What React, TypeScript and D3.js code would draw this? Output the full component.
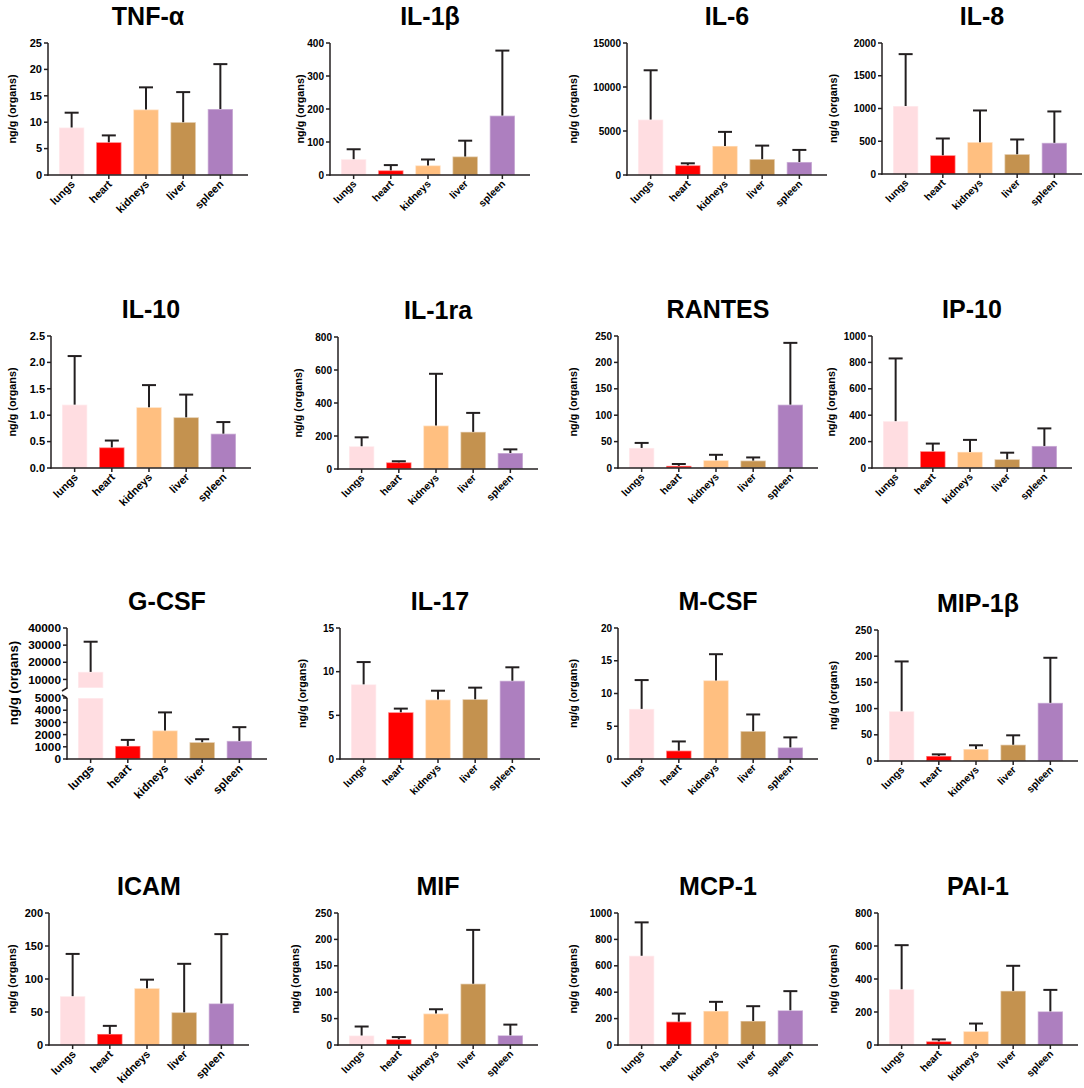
import * as d3 from "d3";

const organs = ["lungs", "heart", "kidneys", "liver", "spleen"];
const organColors = ["#ffdde1", "#ff0000", "#ffbf80", "#c4924f", "#ad7fbf"];

// mean and upper error (SD) per organ
const tnfMean = [9.0, 6.2, 12.4, 10.0, 12.5];
const tnfErr = [2.8, 1.3, 4.2, 5.7, 8.5];
const il1bMean = [48, 14, 29, 56, 180];
const il1bErr = [30, 16, 18, 48, 197];
const il6Mean = [6300, 1100, 3300, 1800, 1480];
const il6Err = [5600, 230, 1600, 1540, 1370];
const il8Mean = [1038, 286, 486, 302, 476];
const il8Err = [792, 256, 484, 225, 479];

const il10Mean = [1.2, 0.39, 1.15, 0.96, 0.65];
const il10Err = [0.92, 0.13, 0.42, 0.43, 0.22];
const il1raMean = [138, 40, 263, 225, 97];
const il1raErr = [54, 7, 314, 115, 22];
const rantesMean = [38, 4, 14.6, 14, 120];
const rantesErr = [9.5, 3.6, 10.4, 6, 117];
const ip10Mean = [355, 127, 122, 66, 167];
const ip10Err = [475, 58, 91, 50, 133];

const gcsfMean = [14400, 1070, 2335, 1374, 1483];
const gcsfErr = [17600, 496, 1485, 246, 1127];
const il17Mean = [8.55, 5.35, 6.8, 6.84, 8.96];
const il17Err = [2.55, 0.42, 1.02, 1.33, 1.54];
const mcsfMean = [7.65, 1.27, 12.0, 4.25, 1.77];
const mcsfErr = [4.4, 1.41, 4.0, 2.55, 1.53];
const mip1bMean = [95, 9.5, 22.8, 31, 111];
const mip1bErr = [95, 3.2, 7.2, 18, 86];

const icamMean = [74, 16.7, 86, 49.5, 63];
const icamErr = [64, 12.3, 13, 73.5, 105];
const mifMean = [18, 10.8, 59.5, 116, 18.4];
const mifErr = [17, 4.2, 8.2, 102, 20.2];
const mcp1Mean = [676, 177, 258, 182, 263];
const mcp1Err = [253, 61, 69, 112, 145];
const pai1Mean = [338, 22, 83, 328, 204];
const pai1Err = [267, 12, 47, 152, 130];

const gcsfLowTicks = [0, 1000, 2000, 3000, 4000, 5000];
const gcsfHighTicks = [10000, 20000, 30000, 40000];

const FONT = "'Liberation Sans', Arial, Helvetica, sans-serif";
const INK = "#231f20";

interface Brk {
  lowMax: number;
  lowTop: number;
  upMin: number;
  upMax: number;
  upBottom: number;
  lowTicks: number[];
  upTicks: number[];
}

interface PanelDef {
  title: string;
  mean: number[];
  err: number[];
  max: number;
  ticks: number[];
  fmt?: (v: number) => string;
  x: number;
  top: number;
  bottom: number;
  labelX: number;
  tickFont: number;
  catFont: number;
  labelFont: number;
  brk?: Brk;
}

const range = (a: number, b: number, s: number) => d3.range(a, b + s / 2, s);
const f1 = (v: number) => v.toFixed(1);

// font sizes: first column slightly larger, as in the source figure
const c1 = { tickFont: 11, catFont: 11, labelFont: 10.8 };
const cN = { tickFont: 10, catFont: 10.3, labelFont: 10.8 };

const panels: PanelDef[] = [
  { title: "TNF-α", mean: tnfMean, err: tnfErr, max: 25, ticks: range(0, 25, 5), x: 48, top: 43, bottom: 175, labelX: 12, ...c1 },
  { title: "IL-1β", mean: il1bMean, err: il1bErr, max: 400, ticks: range(0, 400, 100), x: 330, top: 43, bottom: 175, labelX: 300, ...cN },
  { title: "IL-6", mean: il6Mean, err: il6Err, max: 15000, ticks: range(0, 15000, 5000), x: 627, top: 43, bottom: 175, labelX: 573, ...cN },
  { title: "IL-8", mean: il8Mean, err: il8Err, max: 2000, ticks: range(0, 2000, 500), x: 882, top: 43, bottom: 174, labelX: 833, ...cN },

  { title: "IL-10", mean: il10Mean, err: il10Err, max: 2.5, ticks: range(0, 2.5, 0.5), fmt: f1, x: 51, top: 336, bottom: 468, labelX: 12, ...c1 },
  { title: "IL-1ra", mean: il1raMean, err: il1raErr, max: 800, ticks: range(0, 800, 200), x: 338, top: 337, bottom: 469, labelX: 298, ...cN },
  { title: "RANTES", mean: rantesMean, err: rantesErr, max: 250, ticks: range(0, 250, 50), x: 618, top: 336, bottom: 468, labelX: 573, ...cN },
  { title: "IP-10", mean: ip10Mean, err: ip10Err, max: 1000, ticks: range(0, 1000, 200), x: 872, top: 336, bottom: 468, labelX: 831, ...cN },

  {
    title: "G-CSF", mean: gcsfMean, err: gcsfErr, max: 5000, ticks: gcsfLowTicks, x: 67, top: 628, bottom: 759, labelX: 13,
    tickFont: 11.8, catFont: 11.5, labelFont: 13.2,
    brk: { lowMax: 5000, lowTop: 698, upMin: 5000, upMax: 40000, upBottom: 688, lowTicks: gcsfLowTicks, upTicks: gcsfHighTicks },
  },
  { title: "IL-17", mean: il17Mean, err: il17Err, max: 15, ticks: range(0, 15, 5), x: 340, top: 628, bottom: 759, labelX: 302, ...cN },
  { title: "M-CSF", mean: mcsfMean, err: mcsfErr, max: 20, ticks: range(0, 20, 5), x: 618, top: 628, bottom: 759, labelX: 573, ...cN },
  { title: "MIP-1β", mean: mip1bMean, err: mip1bErr, max: 250, ticks: range(0, 250, 50), x: 878, top: 630, bottom: 761, labelX: 833, ...cN },

  { title: "ICAM", mean: icamMean, err: icamErr, max: 200, ticks: range(0, 200, 50), x: 49, top: 913, bottom: 1045, labelX: 12, ...c1 },
  { title: "MIF", mean: mifMean, err: mifErr, max: 250, ticks: range(0, 250, 50), x: 338, top: 913, bottom: 1045, labelX: 295, ...cN },
  { title: "MCP-1", mean: mcp1Mean, err: mcp1Err, max: 1000, ticks: range(0, 1000, 200), x: 618, top: 913, bottom: 1045, labelX: 573, ...cN },
  { title: "PAI-1", mean: pai1Mean, err: pai1Err, max: 800, ticks: range(0, 800, 200), x: 878, top: 913, bottom: 1045, labelX: 833, ...cN },
];

function Panel({ p }: { p: PanelDef }) {
  const right = p.x + 200;
  const x = d3
    .scaleBand<string>()
    .domain(organs)
    .range([p.x + 11, p.x + 185])
    .paddingInner(0.32);
  const bw = x.bandwidth();
  const cap = 14;
  const fmt = p.fmt ?? ((v: number) => String(v));

  const yLow = d3
    .scaleLinear()
    .domain([0, p.brk ? p.brk.lowMax : p.max])
    .range([p.bottom, p.brk ? p.brk.lowTop : p.top]);
  const yUp = p.brk
    ? d3.scaleLinear().domain([p.brk.upMin, p.brk.upMax]).range([p.brk.upBottom, p.top])
    : null;

  const yOf = (v: number) => (yUp && p.brk && v > p.brk.lowMax ? yUp(v) : yLow(v));

  const yTicks: { v: number; y: number }[] = p.brk
    ? [
        ...p.brk.lowTicks.map((v) => ({ v, y: yLow(v) })),
        ...p.brk.upTicks.map((v) => ({ v, y: yUp!(v) })),
      ]
    : p.ticks.map((v) => ({ v, y: yLow(v) }));

  const axisSegments: [number, number][] = p.brk
    ? [
        [p.bottom, p.brk.lowTop],
        [p.brk.upBottom, p.top],
      ]
    : [[p.bottom, p.top]];

  return (
    <g fontFamily={FONT} fontWeight="bold">
      <text x={p.x + 100} y={p.top - 18} textAnchor="middle" fontSize={25} fill="#000">
        {p.title}
      </text>

      {/* bars; a broken axis splits the tall bar in two */}
      {organs.map((o, i) => {
        const m = p.mean[i];
        const bx = x(o)!;
        const rects: [number, number][] = [];
        if (p.brk && yUp && m > p.brk.lowMax) {
          rects.push([yLow(p.brk.lowMax), yLow(0)]);
          rects.push([yUp(m), yUp(p.brk.upMin)]);
        } else {
          rects.push([yLow(m), yLow(0)]);
        }
        return (
          <g key={o}>
            {rects.map(([y0, y1], j) => (
              <rect
                key={j}
                x={bx}
                y={y0}
                width={bw}
                height={Math.max(0, y1 - y0)}
                fill={organColors[i]}
                stroke="#ffffff"
                strokeOpacity={0.45}
                strokeWidth={1.5}
              />
            ))}
          </g>
        );
      })}

      {/* error bars (upper only) */}
      {organs.map((o, i) => {
        const cx = x(o)! + bw / 2;
        const y0 = yOf(p.mean[i]);
        const y1 = yOf(p.mean[i] + p.err[i]);
        return (
          <g key={o} stroke={INK} strokeWidth={2}>
            <line x1={cx} x2={cx} y1={y0} y2={y1} />
            <line x1={cx - cap / 2} x2={cx + cap / 2} y1={y1} y2={y1} />
          </g>
        );
      })}

      {/* y axis */}
      {axisSegments.map(([a, b], j) => (
        <line key={j} x1={p.x} x2={p.x} y1={a + 0.75} y2={b} stroke={INK} strokeWidth={1.5} />
      ))}
      {p.brk && (
        <g stroke={INK} strokeWidth={1.5}>
          <line x1={p.x} x2={p.x - 5} y1={p.brk.upBottom} y2={p.brk.upBottom + 3} />
          <line x1={p.x} x2={p.x - 5} y1={p.brk.lowTop} y2={p.brk.lowTop - 3} />
        </g>
      )}
      {yTicks.map((t) => (
        <g key={t.v}>
          <line x1={p.x - 4} x2={p.x} y1={t.y} y2={t.y} stroke={INK} strokeWidth={1.5} />
          <text x={p.x - 6} y={t.y} dy="0.35em" textAnchor="end" fontSize={p.tickFont} fill="#000">
            {fmt(t.v)}
          </text>
        </g>
      ))}

      {/* x axis */}
      <line x1={p.x - 0.75} x2={right} y1={p.bottom} y2={p.bottom} stroke={INK} strokeWidth={1.5} />
      {organs.map((o) => {
        const cx = x(o)! + bw / 2;
        return (
          <g key={o}>
            <line x1={cx} x2={cx} y1={p.bottom} y2={p.bottom + 4} stroke={INK} strokeWidth={1.5} />
            <text
              transform={`translate(${cx - 2},${p.bottom + 4}) rotate(-45)`}
              dy="0.75em"
              textAnchor="end"
              fontSize={p.catFont}
              fill="#000"
            >
              {o}
            </text>
          </g>
        );
      })}

      <text
        transform={`translate(${p.labelX},${p.brk ? 683 : (p.top + p.bottom) / 2}) rotate(-90)`}
        dy="0.35em"
        textAnchor="middle"
        fontSize={p.labelFont}
        fill="#000"
      >
        ng/g (organs)
      </text>
    </g>
  );
}

export default function App() {
  return (
    <svg
      width={1084}
      height={1088}
      viewBox="0 0 1084 1088"
      style={{ position: "absolute", left: 0, top: 0, background: "#fff" }}
    >
      <rect width={1084} height={1088} fill="#fff" />
      {panels.map((p) => (
        <Panel key={p.title} p={p} />
      ))}
    </svg>
  );
}
